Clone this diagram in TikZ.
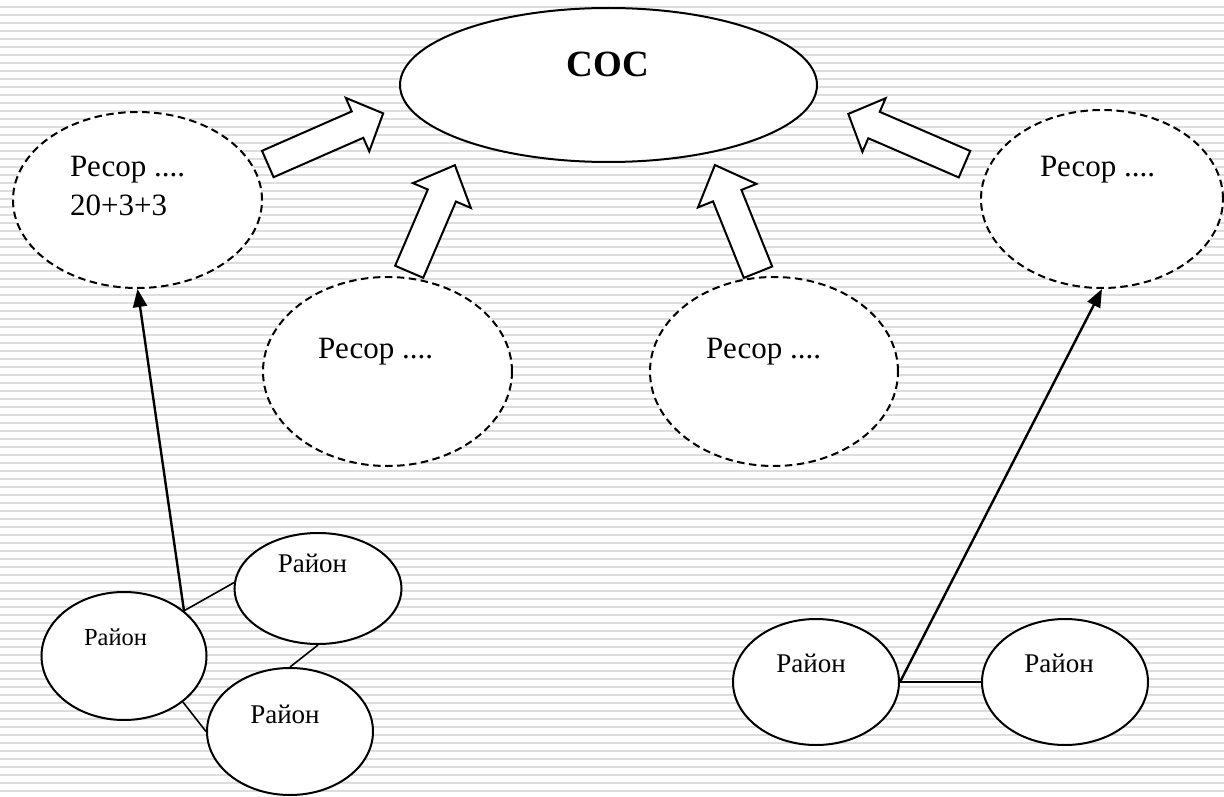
\documentclass[tikz,border=0pt]{standalone}
\usepackage{fontspec}
\setmainfont{Liberation Serif}
\usetikzlibrary{shapes.geometric,arrows.meta}
\definecolor{stripe}{RGB}{221,221,221}
\tikzset{
  x=1pt, y=-1pt,
  oval/.style={ellipse, draw=black, line width=2pt, fill=white, inner sep=0pt},
  dashoval/.style={oval, dash pattern=on 7.5pt off 4.5pt},
  txt/.style={inner sep=0pt, anchor=base west, font=\fontsize{31}{38}\selectfont},
  rtxt/.style={inner sep=0pt, anchor=base, font=\fontsize{27}{32}\selectfont},
  link/.style={line width=1.6pt},
  uplink/.style={line width=2.4pt, -{Triangle[length=18pt,width=14pt]}},
  blockarrow/.style={draw=black, fill=white, line width=2pt, line join=miter},
  stripeline/.style={draw=stripe, line width=2pt}
}
\newcommand\blockarr[6]{%
  \draw[blockarrow, shift={(#1)}, rotate=#2]
    (0,-#4) -- ({#3-#6},-#4) -- ({#3-#6},-#5) -- (#3,0) -- ({#3-#6},#5) -- ({#3-#6},#4) -- (0,#4) -- cycle;}
\begin{document}
\begin{tikzpicture}
\useasboundingbox (0,0) rectangle (1224,797);
\fill[white] (0,0) rectangle (1224,797);
\foreach \k in {0,...,98} \draw[stripeline] (0,{7+8*\k}) -- (1224,{7+8*\k});

% main ellipse
\node[oval, minimum width=417pt, minimum height=154pt] (cos) at (608.5,85) {};
\node[inner sep=0pt, anchor=base, font=\fontsize{37}{44}\selectfont\bfseries] (costxt) at (608,77) {СОС};

% dashed ellipses
\node[dashoval, minimum width=249pt, minimum height=176pt] (r1) at (137.5,200) {};
\node[txt] (r1a) at (70,177) {Ресор ....};
\node[txt] (r1b) at (70,215) {20+3+3};
\node[dashoval, minimum width=249pt, minimum height=189pt] (r2) at (387.5,371.5) {};
\node[txt] (r2a) at (318,358) {Ресор ....};
\node[dashoval, minimum width=248pt, minimum height=189pt] (r3) at (774,371.5) {};
\node[txt] (r3a) at (706,358) {Ресор ....};
\node[dashoval, minimum width=242pt, minimum height=178pt] (r4) at (1102,199) {};
\node[txt] (r4a) at (1040,177) {Ресор ....};

% block arrows
\coordinate (s1) at (267.8,164);
\coordinate (s2) at (409.2,271.8);
\coordinate (s3) at (758,272.2);
\coordinate (s4) at (964.5,164.2);
\blockarr{s1}{23.7}{126}{14.4}{29.2}{28}
\blockarr{s2}{66.8}{116}{15.3}{31.5}{33}
\blockarr{s3}{111.9}{115.5}{15.3}{31.5}{33}
\blockarr{s4}{156.6}{126.6}{14.4}{29.2}{28}

% districts, left group
\node[oval, minimum width=165pt, minimum height=128pt] (a) at (124,656) {};
\node[rtxt, font=\fontsize{24.5}{30}\selectfont] (at) at (115.5,645) {Район};
\node[oval, minimum width=167pt, minimum height=111pt] (b) at (318,588.5) {};
\node[rtxt] (bt) at (312.5,572) {Район};
\node[oval, minimum width=166pt, minimum height=127pt] (c) at (290,731.5) {};
\node[rtxt] (ct) at (285,723) {Район};

% districts, right group
\node[oval, minimum width=166pt, minimum height=126pt] (d) at (816,682) {};
\node[rtxt] (dt) at (811,672) {Район};
\node[oval, minimum width=166pt, minimum height=126pt] (e) at (1065,682) {};
\node[rtxt] (et) at (1059,672) {Район};

% links
\draw[link] (a.37) -- (b.176);
\draw[link] (b.south) -- (c.north);
\draw[link] (a.-38) -- (c.west);
\draw[link] (d.east) -- (e.west);
\draw[uplink] (a.37) -- (r1.south);
\draw[uplink] (d.east) -- (r4.south);
\end{tikzpicture}
\end{document}
